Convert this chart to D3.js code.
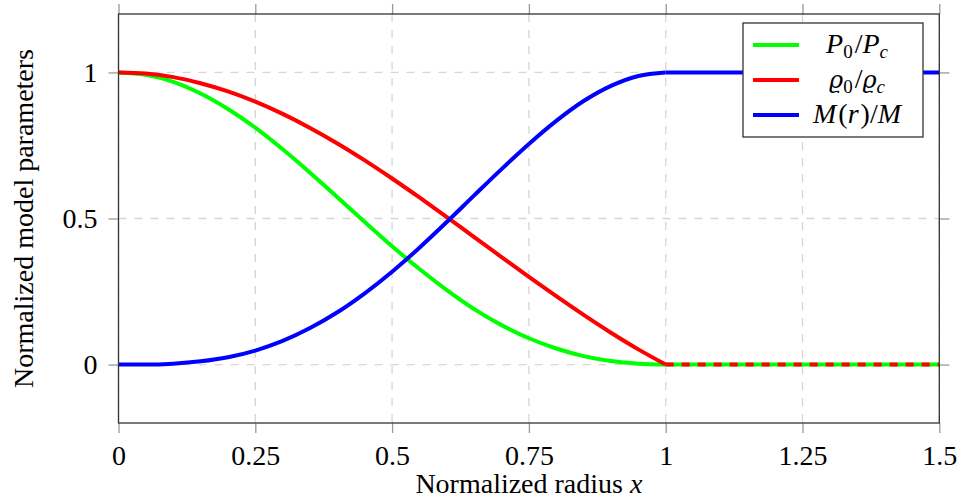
<!DOCTYPE html>
<html>
<head>
<meta charset="utf-8">
<script src="https://cdn.jsdelivr.net/npm/d3@7"></script>
<style>
  html, body { margin: 0; padding: 0; background: #fff; }
  svg { display: block; }
  text { font-family: "Liberation Serif", "DejaVu Serif", serif; fill: #000; }
</style>
</head>
<body>
<svg id="chart" width="960" height="499"></svg>
<script>
// Normalized radius inside the star (0 .. 1)
const radius = [0, 0.05, 0.1, 0.15, 0.2, 0.25, 0.3, 0.35, 0.4, 0.45, 0.5,
                0.55, 0.6, 0.65, 0.7, 0.75, 0.8, 0.85, 0.9, 0.95, 1];
// P0/Pc
const pressure = [1, 0.992, 0.968, 0.928, 0.875, 0.811, 0.737, 0.657, 0.573, 0.488, 0.405,
                  0.327, 0.255, 0.190, 0.135, 0.090, 0.055, 0.029, 0.012, 0.003, 0];
// rho0/rhoc
const density = [1, 0.996, 0.984, 0.963, 0.935, 0.900, 0.858, 0.810, 0.757, 0.699, 0.637,
                 0.572, 0.505, 0.436, 0.368, 0.300, 0.234, 0.170, 0.109, 0.052, 0];
// M(r)/M
const mass = [0, 0.000, 0.003, 0.011, 0.025, 0.048, 0.081, 0.125, 0.179, 0.244, 0.318,
              0.400, 0.488, 0.579, 0.669, 0.755, 0.834, 0.902, 0.954, 0.988, 1];

// Outside the star (1 .. 1.5)
const outerRadius = [1, 1.5];
const outerPressure = [0, 0];
const outerDensity = [0, 0];
const outerMass = [1, 1];

const xTicks = [0, 0.25, 0.5, 0.75, 1, 1.25, 1.5];
const xTickLabels = ["0", "0.25", "0.5", "0.75", "1", "1.25", "1.5"];
const yTicks = [0, 0.5, 1];
const yTickLabels = ["0", "0.5", "1"];

const colors = { pressure: "#00ff00", density: "#ff0000", mass: "#0000ff" };

const svg = d3.select("#chart");
const plotLeft = 118.5, plotRight = 939.3, plotTop = 14, plotBottom = 423;

const x = d3.scaleLinear().domain([0, 1.5]).range([plotLeft, plotRight]);
const y = d3.scaleLinear().domain([-0.2, 1.2]).range([plotBottom, plotTop]);

svg.append("defs").append("clipPath").attr("id", "plotClip")
  .append("rect").attr("x", plotLeft).attr("y", plotTop)
  .attr("width", plotRight - plotLeft).attr("height", plotBottom - plotTop);

// grid
const grid = svg.append("g").attr("stroke", "#d6d6d6").attr("stroke-width", 1.3)
  .attr("stroke-dasharray", "8,8");
grid.selectAll("line.vx").data(xTicks).join("line")
  .attr("x1", d => x(d)).attr("x2", d => x(d)).attr("y1", plotTop).attr("y2", plotBottom);
grid.selectAll("line.hy").data(yTicks).join("line")
  .attr("y1", d => y(d)).attr("y2", d => y(d)).attr("x1", plotLeft).attr("x2", plotRight);

// axes with outward ticks on all four sides
function styleAxis(g) {
  g.select(".domain").remove();
  g.selectAll(".tick line").attr("stroke", "#999").attr("stroke-width", 1.3);
  g.selectAll(".tick text").style("font-size", "28px")
    .style("font-family", "'Liberation Serif', serif").attr("fill", "#000");
}
const xAxis = svg.append("g").attr("transform", `translate(0,${plotBottom})`)
  .call(d3.axisBottom(x).tickValues(xTicks).tickSize(10)
    .tickFormat((d, i) => xTickLabels[i]));
styleAxis(xAxis);
xAxis.selectAll(".tick text").attr("y", 42).attr("dy", 0);

svg.append("g").attr("transform", `translate(0,${plotTop})`)
  .call(d3.axisTop(x).tickValues(xTicks).tickSize(10).tickFormat(""))
  .call(styleAxis);

const yAxis = svg.append("g").attr("transform", `translate(${plotLeft},0)`)
  .call(d3.axisLeft(y).tickValues(yTicks).tickSize(10)
    .tickFormat((d, i) => yTickLabels[i]));
styleAxis(yAxis);
yAxis.selectAll(".tick text").attr("x", -21).attr("dy", "0.32em");

svg.append("g").attr("transform", `translate(${plotRight},0)`)
  .call(d3.axisRight(y).tickValues(yTicks).tickSize(10).tickFormat(""))
  .call(styleAxis);

// curves
const line = d3.line().x(d => x(d[0])).y(d => y(d[1])).curve(d3.curveMonotoneX);
const plot = svg.append("g").attr("clip-path", "url(#plotClip)")
  .attr("fill", "none").attr("stroke-width", 4);

function pairs(xs, ys) { return xs.map((v, i) => [v, ys[i]]); }

plot.append("path").attr("d", line(pairs(radius, pressure))).attr("stroke", colors.pressure);
plot.append("path").attr("d", line(pairs(outerRadius, outerPressure))).attr("stroke", colors.pressure);
plot.append("path").attr("d", line(pairs(radius, density))).attr("stroke", colors.density);
plot.append("path").attr("d", line(pairs(outerRadius, outerDensity))).attr("stroke", colors.density)
  .attr("stroke-dasharray", "8,8");
plot.append("path").attr("d", line(pairs(radius, mass))).attr("stroke", colors.mass);
plot.append("path").attr("d", line(pairs(outerRadius, outerMass))).attr("stroke", colors.mass);

// frame
svg.append("rect").attr("x", plotLeft).attr("y", plotTop)
  .attr("width", plotRight - plotLeft).attr("height", plotBottom - plotTop)
  .attr("fill", "none").attr("stroke", "#333").attr("stroke-width", 1.3);

// axis titles
svg.append("text").attr("x", (plotLeft + plotRight) / 2).attr("y", 493)
  .attr("text-anchor", "middle").style("font-size", "28px")
  .html('Normalized radius <tspan font-style="italic">x</tspan>');
svg.append("text").attr("transform", `translate(33,${(plotTop + plotBottom) / 2}) rotate(-90)`)
  .attr("text-anchor", "middle").style("font-size", "28px")
  .text("Normalized model parameters");

// legend
const legend = svg.append("g");
legend.append("rect").attr("x", 743).attr("y", 23).attr("width", 180).attr("height", 114)
  .attr("fill", "#fff").attr("stroke", "#333").attr("stroke-width", 1.3);
const legendItems = [
  { color: colors.pressure, kind: "P" },
  { color: colors.density, kind: "rho" },
  { color: colors.mass, kind: "M" }
];
const legendY = d3.scaleLinear().domain([0, 2]).range([45, 115]);
legendItems.forEach((it, i) => {
  const ly = legendY(i);
  legend.append("line").attr("x1", 753).attr("x2", 799).attr("y1", ly).attr("y2", ly)
    .attr("stroke", it.color).attr("stroke-width", 4);
  const t = legend.append("text").attr("x", 857).attr("y", ly + 8)
    .attr("text-anchor", "middle").style("font-size", "28px");
  if (it.kind === "M") {
    t.append("tspan").attr("font-style", "italic").text("M");
    t.append("tspan").attr("dx", 2).text("(");
    t.append("tspan").attr("font-style", "italic").text("r");
    t.append("tspan").attr("dx", 2).text(")/");
    t.append("tspan").attr("font-style", "italic").text("M");
  } else if (it.kind === "P") {
    t.append("tspan").attr("font-style", "italic").text("P");
    t.append("tspan").attr("dy", 5).style("font-size", "19px").text("0");
    t.append("tspan").attr("dy", -5).attr("dx", 2).text("/");
    t.append("tspan").attr("font-style", "italic").text("P");
    t.append("tspan").attr("dy", 5).style("font-size", "19px").attr("font-style", "italic").text("c");
  } else {
    t.append("tspan").attr("font-style", "italic").style("font-family", "'DejaVu Serif', serif")
      .style("font-size", "24px").text("\u03F1");
    t.append("tspan").attr("dy", 5).style("font-size", "19px").text("0");
    t.append("tspan").attr("dy", -5).attr("dx", 2).text("/");
    t.append("tspan").attr("font-style", "italic").style("font-family", "'DejaVu Serif', serif")
      .style("font-size", "24px").text("\u03F1");
    t.append("tspan").attr("dy", 5).style("font-size", "19px").attr("font-style", "italic").text("c");
  }
});
</script>
</body>
</html>
